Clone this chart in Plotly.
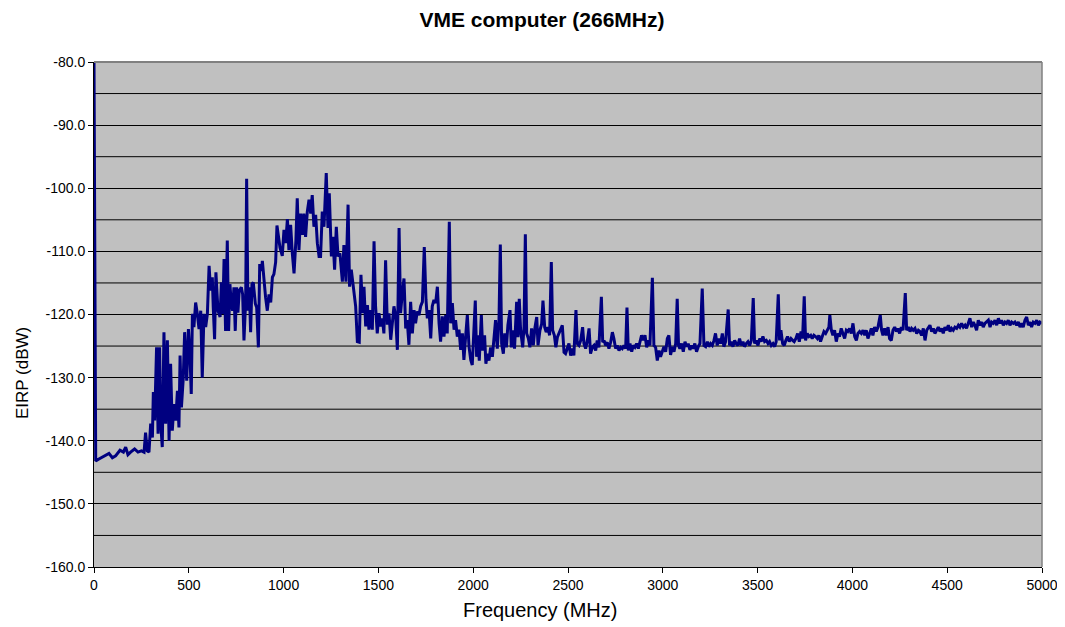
import plotly.graph_objects as go

# ---- data (frequency in MHz, EIRP in dBW) ----
freq_0_1000 = [0, 9, 26, 53, 79, 97, 114, 137, 155, 167,
               179, 193, 214, 232, 250, 264, 272, 281, 290, 299,
               308, 313, 320, 330, 338, 346, 352, 360, 369, 378,
               387, 396, 404, 413, 422, 431, 440, 448, 454, 461,
               471, 478, 489, 498, 506, 513, 519, 527, 536, 545,
               554, 563, 571, 580, 589, 598, 607, 615, 624, 629,
               636, 643, 654, 665, 672, 679, 686, 694, 703, 710,
               717, 724, 731, 738, 745, 752, 759, 766, 777, 784,
               791, 800, 805, 812, 819, 826, 833, 840, 851, 858,
               867, 874, 883, 888, 897, 905, 914, 923, 932, 941,
               949, 958, 965, 972, 981, 993]
eirp_0_1000 = [-80.0, -143.2, -142.9, -142.5, -142.0, -142.7, -142.4, -141.5, -141.8, -141.0,
               -142.2, -141.8, -141.3, -141.8, -141.6, -141.8, -138.7, -141.6, -141.8, -137.3,
               -139.5, -132.3, -136.8, -125.2, -138.9, -125.2, -137.3, -141.0, -122.8, -137.3,
               -124.1, -140.0, -127.8, -138.4, -134.2, -136.8, -132.1, -137.9, -126.5, -134.7,
               -130.0, -122.8, -130.5, -122.3, -126.3, -132.6, -119.9, -122.0, -118.1, -119.9,
               -122.3, -119.4, -130.0, -119.9, -122.0, -119.9, -112.3, -116.2, -114.1, -118.9,
               -123.9, -113.3, -119.4, -120.4, -114.9, -119.9, -111.2, -122.6, -108.3, -122.6,
               -115.2, -118.3, -119.4, -115.7, -122.6, -115.7, -119.7, -116.2, -115.7, -116.8,
               -124.1, -117.8, -98.5, -119.4, -115.7, -122.8, -115.2, -114.9, -118.3, -118.9,
               -125.2, -112.0, -113.1, -111.5, -115.4, -117.3, -119.4, -116.8, -118.1, -114.1,
               -113.6, -111.7, -105.9, -107.2, -109.4, -110.7]

freq_1000_2000 = [1002, 1011, 1020, 1028, 1037, 1046, 1055, 1065, 1072, 1081,
                  1090, 1099, 1107, 1116, 1125, 1134, 1143, 1151, 1160, 1169,
                  1178, 1187, 1195, 1204, 1213, 1225, 1234, 1241, 1252, 1260,
                  1269, 1278, 1287, 1297, 1310, 1318, 1329, 1340, 1348, 1357,
                  1368, 1380, 1389, 1399, 1408, 1417, 1424, 1433, 1442, 1450,
                  1459, 1468, 1477, 1485, 1494, 1503, 1512, 1521, 1529, 1538,
                  1547, 1556, 1565, 1573, 1582, 1591, 1600, 1609, 1617, 1626,
                  1635, 1644, 1652, 1661, 1670, 1679, 1688, 1696, 1705, 1714,
                  1723, 1732, 1742, 1751, 1758, 1767, 1776, 1784, 1793, 1802,
                  1811, 1820, 1828, 1837, 1846, 1855, 1863, 1874, 1881, 1890,
                  1899, 1907, 1916, 1925, 1934, 1943, 1951, 1960, 1969, 1978,
                  1987, 1995]
eirp_1000_2000 = [-106.6, -108.7, -104.9, -109.8, -105.8, -110.3, -113.5, -108.2, -101.6, -109.8,
                  -104.0, -107.4, -104.0, -107.7, -103.7, -101.8, -104.0, -101.1, -106.1, -104.2,
                  -108.7, -110.8, -110.8, -103.7, -106.1, -97.6, -106.3, -100.8, -110.8, -107.7,
                  -112.9, -106.1, -110.8, -110.3, -114.8, -109.0, -114.8, -102.6, -115.6, -112.9,
                  -115.6, -118.7, -124.3, -124.4, -113.7, -119.8, -115.6, -121.9, -118.5, -122.4,
                  -119.3, -122.4, -108.4, -118.7, -123.0, -119.8, -121.9, -120.6, -123.0, -111.4,
                  -121.6, -119.8, -124.0, -121.4, -118.7, -120.3, -125.6, -106.3, -119.8, -116.6,
                  -114.3, -122.2, -120.9, -124.8, -118.0, -123.0, -119.3, -121.4, -119.5, -120.1,
                  -118.7, -118.0, -109.3, -117.7, -120.6, -119.3, -123.8, -118.7, -117.7, -118.2,
                  -115.6, -121.4, -124.3, -120.3, -123.5, -120.1, -123.0, -105.3, -121.4, -118.2,
                  -122.4, -120.9, -123.5, -122.4, -125.6, -123.0, -127.2, -123.5, -120.1, -125.1,
                  -127.2, -128.0]

freq_2000_3000 = [2004, 2011, 2018, 2025, 2032, 2043, 2050, 2060, 2067, 2074,
                  2083, 2092, 2101, 2109, 2118, 2127, 2136, 2143, 2150, 2159,
                  2166, 2175, 2183, 2194, 2201, 2210, 2218, 2229, 2236, 2243,
                  2250, 2261, 2268, 2275, 2282, 2291, 2299, 2308, 2317, 2326,
                  2335, 2342, 2352, 2361, 2368, 2377, 2385, 2394, 2403, 2412,
                  2419, 2428, 2436, 2444, 2452, 2461, 2470, 2479, 2487, 2496,
                  2505, 2514, 2523, 2531, 2542, 2549, 2558, 2567, 2577, 2584,
                  2593, 2602, 2611, 2619, 2628, 2637, 2646, 2654, 2663, 2676,
                  2683, 2690, 2698, 2707, 2716, 2725, 2734, 2742, 2751, 2760,
                  2769, 2778, 2786, 2795, 2804, 2811, 2818, 2827, 2836, 2844,
                  2853, 2862, 2871, 2879, 2888, 2897, 2906, 2915, 2923, 2932,
                  2945, 2953, 2962, 2971, 2980, 2988, 2997]
eirp_2000_3000 = [-122.5, -117.8, -126.7, -123.3, -127.3, -120.1, -125.7, -123.3, -127.8, -126.2,
                  -127.3, -125.2, -126.7, -123.3, -120.9, -125.4, -120.9, -108.9, -124.6, -126.2,
                  -123.0, -125.2, -121.7, -119.3, -125.2, -122.5, -125.4, -118.0, -123.6, -117.5,
                  -122.5, -125.2, -121.9, -107.3, -123.0, -123.8, -125.2, -122.2, -124.9, -122.0,
                  -120.4, -124.9, -122.5, -121.5, -117.8, -122.0, -122.8, -122.0, -123.3, -111.7,
                  -122.5, -123.3, -125.2, -123.6, -123.0, -122.5, -121.7, -126.0, -126.2, -125.4,
                  -124.6, -126.5, -125.4, -126.5, -119.3, -124.6, -124.9, -124.1, -122.0, -124.6,
                  -125.4, -124.1, -122.2, -126.2, -125.2, -124.9, -125.7, -124.1, -125.2, -117.2,
                  -124.4, -124.1, -124.9, -124.4, -125.4, -124.4, -122.8, -123.8, -125.4, -124.9,
                  -125.7, -125.2, -125.4, -124.9, -125.4, -118.9, -125.7, -124.6, -125.9, -124.9,
                  -125.2, -124.6, -125.4, -124.4, -123.3, -124.1, -123.3, -125.2, -124.1, -124.9,
                  -114.2, -124.9, -125.2, -127.3, -125.7, -126.7, -125.9]

freq_3000_4000 = [3006, 3015, 3024, 3032, 3041, 3050, 3059, 3068, 3076, 3083,
                  3090, 3099, 3108, 3117, 3126, 3134, 3143, 3152, 3161, 3169,
                  3178, 3187, 3196, 3208, 3217, 3226, 3235, 3243, 3252, 3261,
                  3270, 3278, 3287, 3296, 3305, 3314, 3322, 3331, 3345, 3352,
                  3361, 3370, 3379, 3387, 3396, 3405, 3414, 3423, 3431, 3440,
                  3449, 3458, 3467, 3477, 3484, 3493, 3502, 3511, 3519, 3528,
                  3537, 3546, 3555, 3563, 3572, 3581, 3590, 3598, 3609, 3616,
                  3623, 3632, 3641, 3649, 3658, 3667, 3676, 3685, 3693, 3702,
                  3711, 3720, 3729, 3737, 3746, 3753, 3762, 3771, 3780, 3788,
                  3797, 3806, 3815, 3823, 3832, 3841, 3850, 3859, 3867, 3876,
                  3881, 3889, 3897, 3906, 3915, 3924, 3932, 3941, 3950, 3959,
                  3968, 3976, 3985, 3994]
eirp_3000_4000 = [-125.1, -125.9, -123.8, -123.3, -126.4, -125.1, -125.9, -124.6, -117.5, -124.9,
                  -125.4, -124.6, -125.9, -124.3, -125.1, -124.6, -125.6, -124.9, -125.4, -124.6,
                  -125.9, -125.1, -124.6, -115.9, -124.9, -125.1, -124.3, -125.1, -124.6, -124.9,
                  -124.1, -123.0, -124.9, -123.8, -124.6, -123.0, -125.1, -124.3, -119.2, -124.9,
                  -124.3, -125.1, -124.1, -124.6, -124.9, -123.8, -124.9, -124.3, -125.1, -124.6,
                  -124.3, -124.9, -124.1, -117.4, -124.6, -124.1, -124.9, -123.8, -124.3, -123.5,
                  -124.3, -124.1, -124.6, -124.3, -124.9, -124.6, -125.1, -124.3, -116.8, -124.1,
                  -122.5, -124.6, -124.9, -124.1, -123.5, -124.3, -123.8, -124.1, -124.3, -123.8,
                  -123.0, -124.3, -122.7, -123.8, -117.1, -124.1, -123.0, -123.5, -123.3, -123.8,
                  -123.3, -123.5, -123.8, -123.3, -124.3, -123.5, -122.7, -123.0, -122.5, -122.0,
                  -120.1, -122.5, -123.3, -122.5, -124.3, -123.0, -123.5, -122.2, -123.0, -123.8,
                  -122.5, -122.7, -122.2, -123.0]

freq_4000_5000 = [4003, 4012, 4021, 4029, 4038, 4047, 4056, 4065, 4073, 4082,
                  4091, 4100, 4108, 4117, 4126, 4135, 4147, 4154, 4161, 4170,
                  4179, 4188, 4196, 4205, 4214, 4223, 4232, 4240, 4249, 4258,
                  4267, 4279, 4286, 4295, 4304, 4312, 4321, 4330, 4339, 4348,
                  4356, 4365, 4374, 4383, 4392, 4400, 4409, 4418, 4427, 4435,
                  4444, 4453, 4462, 4471, 4479, 4488, 4497, 4506, 4515, 4523,
                  4532, 4541, 4550, 4559, 4567, 4576, 4585, 4594, 4602, 4611,
                  4620, 4629, 4638, 4646, 4655, 4664, 4673, 4682, 4690, 4699,
                  4708, 4717, 4726, 4734, 4743, 4752, 4761, 4770, 4778, 4787,
                  4796, 4805, 4813, 4822, 4831, 4840, 4849, 4857, 4866, 4875,
                  4884, 4893, 4901, 4910, 4919, 4928, 4937, 4945, 4954, 4963,
                  4972, 4981, 4989, 5000]
eirp_4000_5000 = [-121.4, -123.5, -124.1, -123.0, -122.7, -123.0, -122.5, -123.3, -122.5, -123.8,
                  -123.0, -122.2, -123.3, -122.0, -122.7, -122.0, -120.1, -122.5, -123.3, -122.2,
                  -123.3, -122.0, -123.8, -124.1, -122.5, -122.0, -122.7, -122.2, -123.0, -122.0,
                  -122.5, -116.6, -122.5, -122.0, -122.7, -122.2, -122.5, -122.2, -123.0, -122.5,
                  -122.7, -123.3, -122.2, -124.1, -122.5, -122.0, -121.7, -122.7, -122.2, -123.0,
                  -122.5, -122.0, -122.7, -122.2, -123.0, -122.0, -122.5, -121.7, -122.7, -122.2,
                  -122.5, -122.0, -122.2, -121.7, -122.0, -121.4, -122.0, -121.7, -122.2, -121.2,
                  -120.6, -122.0, -121.2, -121.7, -122.5, -120.9, -121.7, -121.2, -122.0, -121.4,
                  -121.2, -120.9, -122.0, -121.2, -121.4, -120.9, -121.7, -120.6, -121.4, -120.9,
                  -121.7, -121.2, -121.4, -120.9, -121.7, -121.2, -121.4, -121.2, -121.7, -121.2,
                  -122.0, -121.4, -122.0, -120.9, -120.4, -121.7, -121.2, -122.0, -121.2, -121.4,
                  -120.9, -121.7, -121.2, -121.4]

x_ticks = [0, 500, 1000, 1500, 2000, 2500, 3000, 3500, 4000, 4500, 5000]
y_ticks = [-80, -90, -100, -110, -120, -130, -140, -150, -160]
y_grid = [-85, -95, -105, -115, -125, -135, -145, -155]

title_text = "VME computer (266MHz)"
x_title = "Frequency (MHz)"
y_title = "EIRP (dBW)"

freq = freq_0_1000 + freq_1000_2000 + freq_2000_3000 + freq_3000_4000 + freq_4000_5000
eirp = eirp_0_1000 + eirp_1000_2000 + eirp_2000_3000 + eirp_3000_4000 + eirp_4000_5000

FONT = "Liberation Sans, Arial, sans-serif"
W, H = 1065, 627
OFF = 8  # the page body adds an 8 px offset
PL, PR, PT, PB = 94, 1042, 62, 567  # plot area in window pixels


def px_to_paper_x(px):
    return (px - PL) / (PR - PL)


def px_to_paper_y(py):
    return (PB - py) / (PB - PT)


fig = go.Figure()
fig.add_trace(go.Scatter(x=freq, y=eirp, mode="lines",
                         line=dict(color="#000080", width=3),
                         cliponaxis=True, showlegend=False))

fig.update_layout(
    width=W, height=H,
    margin=dict(l=PL - OFF, r=W - (PR - OFF), t=PT - OFF, b=H - (PB - OFF), autoexpand=False),
    paper_bgcolor="white",
    plot_bgcolor="#C0C0C0",
    font=dict(family=FONT, color="black", size=14),
    title=dict(text="<b>" + title_text + "</b>", x=(542 - OFF) / W, xanchor="center",
               y=1 - (20 - OFF) / H, yref="container", yanchor="middle",
               font=dict(family=FONT, size=21, color="black")),
)

fig.update_xaxes(
    range=[0, 5000], tickvals=x_ticks, ticktext=[str(v) for v in x_ticks],
    showgrid=False, zeroline=False,
    showline=True, linecolor="black", linewidth=1,
    ticks="outside", ticklen=5, tickcolor="black", tickwidth=1,
    tickfont=dict(family=FONT, size=14, color="black"),
)
fig.update_yaxes(
    range=[-160, -80], tickvals=y_ticks, ticktext=["%.1f" % v for v in y_ticks],
    showgrid=True, gridcolor="black", gridwidth=1,
    zeroline=False,
    showline=True, linecolor="black", linewidth=1,
    ticks="outside", ticklen=5, tickcolor="black", tickwidth=1,
    tickfont=dict(family=FONT, size=14, color="black"),
)

# axis titles placed where the reference has them
fig.add_annotation(text=x_title, xref="paper", yref="paper",
                   x=px_to_paper_x(540), y=px_to_paper_y(610),
                   xanchor="center", yanchor="middle", showarrow=False,
                   font=dict(family=FONT, size=20, color="black"))
fig.add_annotation(text=y_title, xref="paper", yref="paper",
                   x=px_to_paper_x(22), y=px_to_paper_y(373),
                   xanchor="center", yanchor="middle", showarrow=False, textangle=-90,
                   font=dict(family=FONT, size=17, color="black"))

# minor gridlines at the 5 dB positions
for g in y_grid:
    fig.add_shape(type="line", xref="paper", yref="y", x0=0, x1=1, y0=g, y1=g,
                  line=dict(color="black", width=1), layer="below")

# gray frame on top and right of the plot area
fig.add_shape(type="line", xref="paper", yref="paper", x0=0, x1=1, y0=1, y1=1,
              line=dict(color="#808080", width=2), layer="above")
fig.add_shape(type="line", xref="paper", yref="paper", x0=1, x1=1, y0=0, y1=1,
              line=dict(color="#808080", width=1.5), layer="above")

fig.write_html("out.html")
